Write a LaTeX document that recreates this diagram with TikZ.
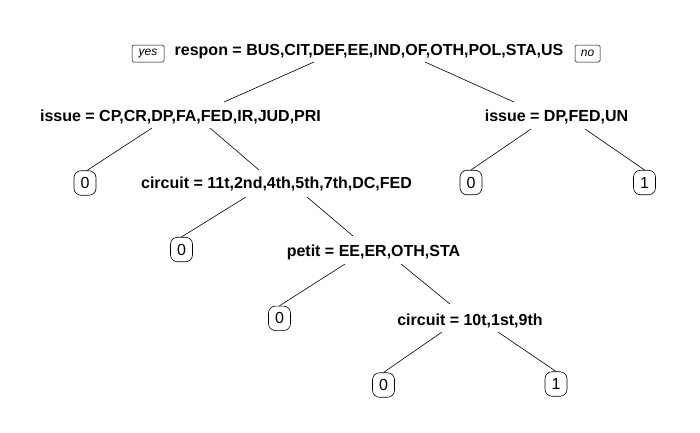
\documentclass[tikz,border=0pt]{standalone}
\usepackage{fontspec}
\setmainfont{Liberation Sans}
\begin{document}
\begin{tikzpicture}[x=1pt,y=-1pt,
  split/.style={anchor=base,inner sep=0pt,font=\bfseries\fontsize{16}{16}\selectfont},
  leaf/.style={draw,line width=0.6pt,rounded corners=7pt,minimum width=22pt,minimum height=24.5pt,inner sep=0pt,font=\fontsize{16}{16}\selectfont},
  tag/.style={draw,line width=0.5pt,rounded corners=1.5pt,minimum height=17pt,inner sep=0pt,font=\itshape\fontsize{12}{12}\selectfont},
  edge/.style={line width=0.6pt}]
\useasboundingbox[fill=white] (0,0) rectangle (700,432);
% split nodes
\node[split] (root) at (369,55) {respon = BUS,CIT,DEF,EE,IND,OF,OTH,POL,STA,US};
\node[split] (iL) at (180.5,121.7) {issue = CP,CR,DP,FA,FED,IR,JUD,PRI};
\node[split] (iR) at (556.5,121.7) {issue = DP,FED,UN};
\node[split] (c1) at (276.5,188.3) {circuit = 11t,2nd,4th,5th,7th,DC,FED};
\node[split] (p) at (373.5,256.7) {petit = EE,ER,OTH,STA};
\node[split] (c2) at (470,325) {circuit = 10t,1st,9th};
% leaves
\node[leaf] (l1) at (85,183) {0};
\node[leaf] (l2) at (181.5,249.5) {0};
\node[leaf] (l3) at (279.5,318.3) {0};
\node[leaf] (l4) at (383.5,385) {0};
\node[leaf] (l5) at (556,384) {1};
\node[leaf] (l6) at (471,182.5) {0};
\node[leaf] (l7) at (644.5,182.5) {1};
% yes / no tags
\node[tag,minimum width=32pt] (yes) at (148,53.5) {yes};
\node[tag,minimum width=25pt] (no) at (587.5,53.5) {no};
% connectors
\draw[edge] ([shift={(-55,7)}]root.base) -- ([shift={(43.5,-19.7)}]iL.base);
\draw[edge] ([shift={(56,7)}]root.base) -- ([shift={(-42.5,-19.7)}]iR.base);
\draw[edge] ([shift={(-28.5,6.3)}]iL.base) -- ([xshift=2pt]l1.north);
\draw[edge] ([shift={(29.5,6.3)}]iL.base) -- ([shift={(-17.5,-18.3)}]c1.base);
\draw[edge] ([shift={(-30.5,8.7)}]c1.base) -- (l2.north);
\draw[edge] ([shift={(30.5,8.7)}]c1.base) -- ([shift={(-20.5,-20.7)}]p.base);
\draw[edge] ([shift={(-28.5,7.3)}]p.base) -- (l3.north);
\draw[edge] ([shift={(27.5,7.3)}]p.base) -- ([shift={(-20,-21)}]c2.base);
\draw[edge] ([shift={(-28,7)}]c2.base) -- (l4.north);
\draw[edge] ([shift={(28,7)}]c2.base) -- (l5.north);
\draw[edge] ([shift={(-25.5,7.3)}]iR.base) -- (l6.north);
\draw[edge] ([shift={(28.5,7.3)}]iR.base) -- (l7.north);
\end{tikzpicture}
\end{document}
